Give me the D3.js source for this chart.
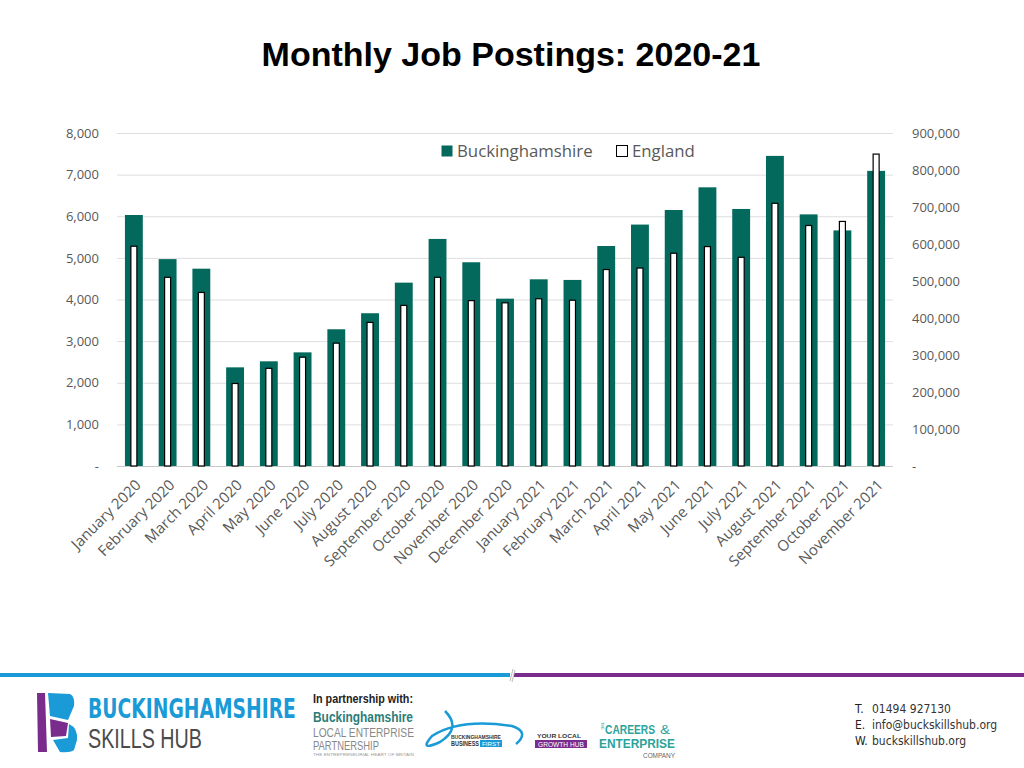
<!DOCTYPE html>
<html>
<head>
<meta charset="utf-8">
<script src="https://cdn.jsdelivr.net/npm/d3@7"></script>
<style>
  body { margin: 0; background: #fff; }
  svg { display: block; }
</style>
</head>
<body>
<script>
// chart data
const months = [
    "January 2020", "February 2020", "March 2020", "April 2020", "May 2020", "June 2020",
    "July 2020", "August 2020", "September 2020", "October 2020", "November 2020", "December 2020",
    "January 2021", "February 2021", "March 2021", "April 2021", "May 2021", "June 2021",
    "July 2021", "August 2021", "September 2021", "October 2021", "November 2021",
];
const bucks = [
    6030, 4970, 4740, 2370, 2515, 2730, 3285, 3670, 4405, 5455, 4895, 4020,
    4485, 4470, 5285, 5800, 6150, 6695, 6175, 7450, 6045, 5660, 7090,
];
const england = [
    594000, 510000, 469000, 223000, 264000, 294000, 332000, 388000, 434000, 510000, 447000, 441000,
    452000, 448000, 531000, 535000, 575000, 593000, 564000, 710000, 650000, 661000, 843000,
];
const leftTicks = [0, 1000, 2000, 3000, 4000, 5000, 6000, 7000, 8000];
const rightTicks = [0, 100000, 200000, 300000, 400000, 500000, 600000, 700000, 800000, 900000];
const seriesNames = ["Buckinghamshire", "England"];

const width = 1024, height = 768;
const GREEN = "#03695d";
const TXT = "#595959";
const FONT = "'Open Sans', sans-serif";

const svg = d3.select("body").append("svg").attr("width", width).attr("height", height);

// title
svg.append("text")
    .attr("x", 511).attr("y", 66)
    .attr("text-anchor", "middle")
    .style("font-family", "'Liberation Sans', Arial, sans-serif")
    .style("font-weight", "bold")
    .style("font-size", "34px")
    .text("Monthly Job Postings: 2020-21");

// scales
const x = d3.scaleBand().domain(months).range([117, 893]).paddingInner(0.47).paddingOuter(0.235);
const yL = d3.scaleLinear().domain([0, 8000]).range([466, 133]);
const yR = d3.scaleLinear().domain([0, 900000]).range([466, 133]);

const fmt = (v) => (v === 0 ? "-" : d3.format(",")(v));

// gridlines
svg.append("g")
    .selectAll("line")
    .data(leftTicks)
    .join("line")
    .attr("x1", 117).attr("x2", 893)
    .attr("y1", (d) => yL(d) + 0.5).attr("y2", (d) => yL(d) + 0.5)
    .attr("stroke", (d) => (d === 0 ? "#c8c8c8" : "#dedede"))
    .attr("stroke-width", 1);

// left axis
const axL = svg.append("g")
    .attr("transform", "translate(99,0)")
    .call(d3.axisLeft(yL).tickValues(leftTicks).tickFormat(fmt).tickSize(0).tickPadding(0));
axL.select(".domain").remove();
axL.selectAll("text").style("font-family", FONT).style("font-size", "13px").attr("fill", TXT);

// right axis
const axR = svg.append("g")
    .attr("transform", "translate(912,0)")
    .call(d3.axisRight(yR).tickValues(rightTicks).tickFormat(fmt).tickSize(0).tickPadding(0));
axR.select(".domain").remove();
axR.selectAll("text").style("font-family", FONT).style("font-size", "13px").attr("fill", TXT);

// bars
const bw = x.bandwidth();
svg.append("g")
    .selectAll("rect")
    .data(months)
    .join("rect")
    .attr("x", (d) => x(d))
    .attr("y", (d, i) => yL(bucks[i]))
    .attr("width", bw)
    .attr("height", (d, i) => yL(0) - yL(bucks[i]))
    .attr("fill", GREEN);

const ew = 6;
svg.append("g")
    .selectAll("rect")
    .data(months)
    .join("rect")
    .attr("x", (d) => x(d) + bw / 2 - ew / 2)
    .attr("y", (d, i) => yR(england[i]))
    .attr("width", ew)
    .attr("height", (d, i) => yR(0) - yR(england[i]))
    .attr("fill", "#fff")
    .attr("stroke", "#000")
    .attr("stroke-width", 1.2);

// x labels
const axX = svg.append("g")
    .attr("transform", "translate(0,466)")
    .call(d3.axisBottom(x).tickSize(0).tickPadding(0));
axX.select(".domain").remove();
axX.selectAll("text")
    .attr("text-anchor", "end")
    .attr("dy", 0)
    .attr("transform", "translate(8,20) rotate(-45)")
    .style("font-family", FONT)
    .style("font-size", "15px")
    .attr("fill", TXT);

// legend
{
    const legend = svg.append("g").attr("class", "legend");
    const items = [
        { name: seriesNames[0], x: 441, fill: GREEN, stroke: "none" },
        { name: seriesNames[1], x: 616, fill: "#fff", stroke: "#000" },
    ];
    items.forEach((it) => {
        legend.append("rect")
            .attr("x", it.x + 0.5).attr("y", 145.5)
            .attr("width", 11).attr("height", 11)
            .attr("fill", it.fill).attr("stroke", it.stroke);
        legend.append("text")
            .attr("x", it.x + 16).attr("y", 157)
            .style("font-family", FONT).style("font-size", "16.8px")
            .attr("fill", TXT)
            .text(it.name);
    });
}

// footer
{
    const f = svg.append("g").attr("class", "footer");
    f.append("line").attr("x1", 0).attr("x2", 510).attr("y1", 675).attr("y2", 675)
        .attr("stroke", "#1a9ad6").attr("stroke-width", 4);
    f.append("line").attr("x1", 514).attr("x2", 1024).attr("y1", 675).attr("y2", 675)
        .attr("stroke", "#7a2c8c").attr("stroke-width", 4);
    f.append("path").attr("d", "M510,681 L513,669 M512,682 L515,670")
        .attr("stroke", "#bbb").attr("stroke-width", 1).attr("fill", "none");

    // skills hub mark
    f.append("path").attr("d", "M37,693 L45,693 L47,752 L38,752 Z").attr("fill", "#7a2c8c");
    f.append("path").attr("d", "M48,693 L70,694 Q75,696 74,706 L68,720 L50,716 Z").attr("fill", "#1a9ad6");
    f.append("path").attr("d", "M50,719 L68,723 L66,736 L51,737 Z").attr("fill", "#7a2c8c");
    f.append("path").attr("d", "M69,724 Q78,728 77,740 L74,750 Q70,753 60,752 L53,740 L68,738 Z").attr("fill", "#1a9ad6");

    // text squeezed horizontally to a target width (so its box is the drawn box)
    const NARROW = "'Liberation Sans Narrow', 'Liberation Sans', sans-serif";
    const fit = (t, xx, yy, size, col, len, opts = {}) => {
        const el = f.append("text").attr("x", 0).attr("y", 0)
            .style("font-family", opts.family || NARROW)
            .style("font-size", size + "px")
            .style("font-weight", opts.bold ? "bold" : "normal")
            .attr("fill", col).text(t);
        const nat = el.node().getComputedTextLength();
        const sx = len ? len / nat : 1;
        el.attr("transform", `translate(${xx},${yy}) scale(${sx},1)` + (opts.rotate ? ` rotate(${opts.rotate})` : ""));
        return el;
    };

    fit("BUCKINGHAMSHIRE", 88, 718, 26, "#1a9ad6", 208,
        { bold: true, family: "'DejaVu Sans Condensed', 'DejaVu Sans', sans-serif" });
    fit("SKILLS HUB", 88, 748, 27, "#4a4a4a", 114);

    // partners
    fit("In partnership with:", 313, 703, 13, "#222", 100, { bold: true });
    fit("Buckinghamshire", 313, 722, 14, "#2c7c78", 100, { bold: true });
    fit("LOCAL ENTERPRISE", 313, 737, 12, "#888", 101);
    fit("PARTNERSHIP", 313, 750, 12, "#888", 66);
    fit("THE ENTREPRENEURIAL HEART OF BRITAIN", 313, 756, 4, "#999", 101);

    f.append("path")
        .attr("d", "M445,711 Q462,728 440,742 Q418,752 432,736 Q460,718 512,726 Q530,732 516,744")
        .attr("fill", "none").attr("stroke", "#1a9ad6").attr("stroke-width", 2.5);
    fit("BUCKINGHAMSHIRE", 451, 739, 6, "#333", 50, { bold: true });
    fit("BUSINESS", 451, 746, 6.5, "#333", 28, { bold: true });
    f.append("rect").attr("x", 480).attr("y", 740).attr("width", 22).attr("height", 7).attr("fill", "#1a9ad6");
    fit("FIRST", 482, 746, 6, "#fff", 18);

    fit("YOUR LOCAL", 537, 738, 6, "#333", 44, { bold: true });
    f.append("rect").attr("x", 535).attr("y", 740).attr("width", 52).attr("height", 8).attr("fill", "#7a2c8c");
    fit("GROWTH HUB", 538, 746.5, 6.5, "#fff", 46);

    fit("THE", 601, 722, 4, "#2aa39a", 0, { rotate: 90 });
    fit("CAREERS", 605, 734, 13, "#2aa39a", 50, { bold: true });
    fit("&", 660, 734, 12, "#2aa39a", 10);
    fit("ENTERPRISE", 599, 748, 13, "#2aa39a", 76, { bold: true });
    fit("COMPANY", 643, 758, 6.5, "#666", 32);

    // contact
    const contact = [["T.", "01494 927130"], ["E.", "info@buckskillshub.org"], ["W.", "buckskillshub.org"]];
    contact.forEach((c, i) => {
        fit(c[0], 855, 713 + i * 16, 12, "#222", 0, { family: "'DejaVu Sans Condensed', sans-serif" });
        fit(c[1], 872, 713 + i * 16, 12, "#333", 0, { family: "'DejaVu Sans Condensed', sans-serif" });
    });
}
</script>
</body>
</html>
